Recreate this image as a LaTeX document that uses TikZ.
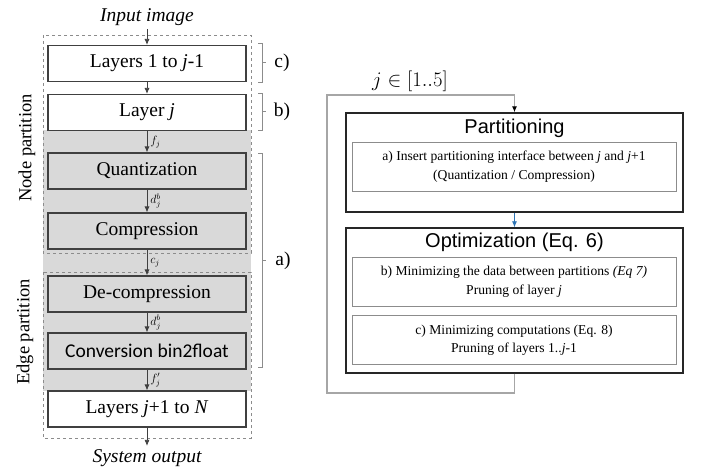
\documentclass[tikz,border=0pt]{standalone}
\usepackage{fontspec}
\setmainfont{Liberation Serif}
\newfontfamily\headfont{Liberation Sans}
\newfontfamily\calfont{Carlito}
\usetikzlibrary{arrows.meta}
\definecolor{boxline}{RGB}{64,64,64}
\definecolor{dashgray}{RGB}{140,140,140}
\definecolor{greyfill}{RGB}{217,217,217}
\definecolor{loopgray}{RGB}{166,166,166}
\definecolor{linkblue}{RGB}{46,117,182}
\tikzset{
  stagebox/.style={draw=boxline,line width=1.1pt,minimum width=198pt,minimum height=36pt,
    inner sep=0pt,font=\fontsize{19.5}{22}\selectfont},
  flow/.style={draw=boxline,line width=0.8pt,-{Latex[length=6pt,width=5pt]}},
  lbl/.style={right,inner sep=0pt,xshift=3pt,font=\fontsize{11.5}{12}\selectfont},
  partbox/.style={draw=dashgray,dashed,line width=0.8pt},
  bracket/.style={draw=dashgray,line width=0.8pt},
  stepbig/.style={draw=black!85,line width=1.4pt,minimum width=337pt,inner sep=0pt},
  stepsmall/.style={draw=dashgray,line width=0.9pt,minimum width=324pt,minimum height=49pt,
    inner sep=0pt,align=center,font=\fontsize{13.6}{18.5}\selectfont},
}
\begin{document}
\begin{tikzpicture}[x=1pt,y=-1pt]
  \useasboundingbox[fill=white] (0,0) rectangle (702,468);
  % left column
  \fill[greyfill] (43,130) rectangle (251,391);
  \draw[partbox] (43,35) rectangle (251,253);
  \draw[partbox] (43,272) rectangle (251,438);
  \node[font=\fontsize{19.5}{22}\selectfont\itshape] (input) at (147,17) {Input image};
  \node[stagebox] (layers1) at (147,63.5) {Layers 1 to \textit{j}-1};
  \node[stagebox] (layerj) at (147,112.5) {Layer \textit{j}};
  \node[stagebox,fill=greyfill] (quant) at (147,171) {Quantization};
  \node[stagebox,fill=greyfill] (compr) at (147,231) {Compression};
  \node[stagebox,fill=greyfill] (decompr) at (147,294) {De-compression};
  \node[stagebox,fill=greyfill,font=\fontsize{19.5}{22}\calfont] (conv) at (147,351) {Conversion bin2float};
  \node[stagebox,fill=white] (layersN) at (147,409) {Layers \textit{j}+1 to \textit{N}};
  \node[font=\fontsize{19.5}{22}\selectfont\itshape] (output) at (147,458) {System output};
  \draw[flow] (input) -- (layers1);
  \draw[flow] (layers1) -- (layerj);
  \draw[flow] (layerj) -- node[lbl] {$f_j$} (quant);
  \draw[flow] (quant) -- node[lbl] {$d_j^b$} (compr);
  \draw[flow] (compr) -- node[lbl] {$c_j$} (decompr);
  \draw[flow] (decompr) -- node[lbl] {$d_j^b$} (conv);
  \draw[flow] (conv) -- node[lbl] {$f_j'$} (layersN);
  \draw[flow] (layersN) -- (output);
  \node[rotate=90,font=\fontsize{18.5}{22}\selectfont] (nodepart) at (27,148) {Node partition};
  \node[rotate=90,font=\fontsize{18.5}{22}\selectfont] (edgepart) at (25,332) {Edge partition};
  % brackets
  \draw[bracket] (258,43) -- (262,43) -- (262,82) -- (258,82) (262,62.5) -- (266,62.5);
  \draw[bracket] (258,93) -- (262,93) -- (262,130) -- (258,130) (262,111.5) -- (266,111.5);
  \draw[bracket] (258,153) -- (262,153) -- (262,367) -- (258,367) (262,260) -- (266,260);
  \node[font=\fontsize{19.5}{22}\selectfont] (brc) at (282,63) {c)};
  \node[font=\fontsize{19.5}{22}\selectfont] (brb) at (282,112) {b)};
  \node[font=\fontsize{19.5}{22}\selectfont] (bra) at (283,261) {a)};
  % right column
  \node[stepbig,minimum height=99pt] (part) at (514.5,162.5) {};
  \node[font=\fontsize{20}{24}\headfont] (parttitle) at (514.5,128) {Partitioning};
  \node[stepsmall] (parta) at (514,166.5) {a) Insert partitioning interface between \textit{j} and \textit{j}+1\\(Quantization / Compression)};
  \node[stepbig,minimum height=145pt] (optim) at (514.5,300.5) {};
  \node[font=\fontsize{20}{24}\headfont] (optimtitle) at (514.5,242) {Optimization (Eq. 6)};
  \node[stepsmall] (optb) at (514,281.5) {b) Minimizing the data between partitions \textit{(Eq 7)}\\Pruning of layer \textit{j}};
  \node[stepsmall] (optc) at (514,340) {c) Minimizing computations (Eq. 8)\\Pruning of layers 1..\textit{j}-1};
  \draw[linkblue,line width=0.8pt,-{Latex[length=6pt,width=5pt]}] (part) -- (optim);
  \coordinate (loopbl) at (327,393);
  \coordinate (looptl) at (327,95);
  \draw[loopgray,line width=1.1pt,-{Latex[length=6pt,width=5pt,black]}]
    (optim.south) |- (loopbl) -- (looptl) -| (part.north);
  \node[font=\fontsize{22}{24}\selectfont] (range) at (410,81) {$j \in [1..5]$};
\end{tikzpicture}
\end{document}
